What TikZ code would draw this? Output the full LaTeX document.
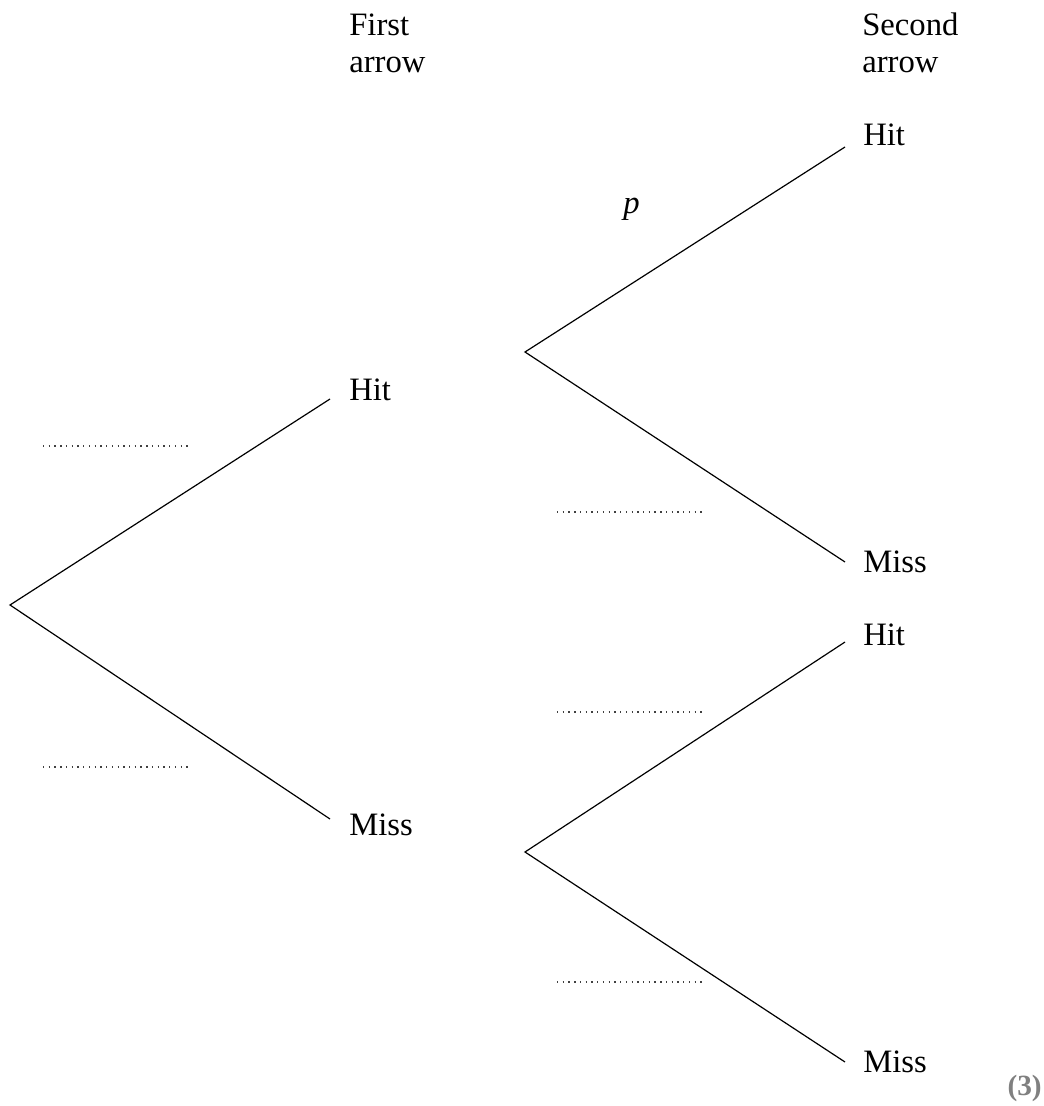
\documentclass[tikz,border=0pt]{standalone}
\usepackage{fontspec}
\setmainfont{Liberation Serif}
\usetikzlibrary{positioning}

\begin{document}
\begin{tikzpicture}[x=0.75pt, y=-0.75pt,
  every node/.style={font=\fontsize{24.5}{28}\selectfont, inner sep=0pt, anchor=base west},
  branch/.style={line width=0.9pt},
  blank/.style={line width=1.1pt, black!75, dash pattern=on 1pt off 3.3pt}]
  \useasboundingbox (0,0) rectangle (1043,1106);
  % headings
  \node[align=left] (first) at (349,73) {First\\arrow};
  \node[align=left] (second) at (862,73) {Second\\arrow};
  % branch points
  \coordinate (root) at (10,605);
  \coordinate (h1) at (330,399);
  \coordinate (m1) at (330,819);
  \coordinate (h1s) at (525,352);
  \coordinate (m1s) at (525,852);
  \coordinate (hh) at (845,147);
  \coordinate (hm) at (845,562);
  \coordinate (mh) at (845,642);
  \coordinate (mm) at (845,1062);
  % outcomes
  \node (hitA) at (349,400) {Hit};
  \node (missA) at (349,835) {Miss};
  \node (hitB) at (863,145) {Hit};
  \node (missB) at (863,572) {Miss};
  \node (hitC) at (863,645) {Hit};
  \node (missC) at (863,1072) {Miss};
  % branches
  \draw[branch] (h1) -- (root) -- (m1);
  \draw[branch] (hh) -- (h1s) -- (hm);
  \draw[branch] (mh) -- (m1s) -- (mm);
  % probabilities
  \node (p) at (623,213) {\textit{p}};
  \draw[blank] (43,446) -- (192,446);
  \draw[blank] (43,767) -- (192,767);
  \draw[blank] (557,512) -- (706,512);
  \draw[blank] (557,712) -- (706,712);
  \draw[blank] (557,982) -- (706,982);
  % marks
  \node[font=\fontsize{22}{26}\selectfont\bfseries, gray, anchor=base east] (marks) at (1042,1095) {(3)};
\end{tikzpicture}
\end{document}
